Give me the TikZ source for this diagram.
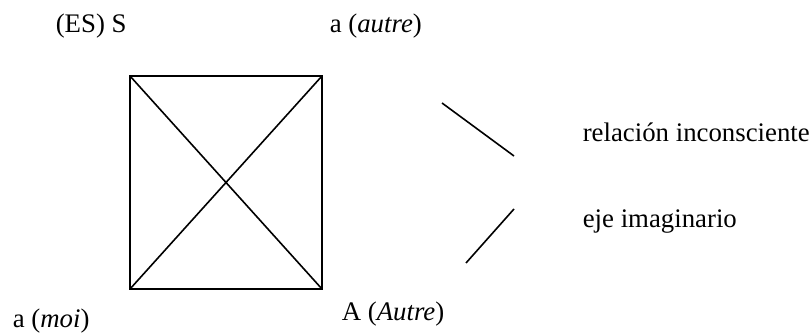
\documentclass[tikz,border=0pt]{standalone}
\usepackage{fontspec}
\setmainfont{Liberation Serif}
\usetikzlibrary{positioning}

\begin{document}
\begin{tikzpicture}[x=1pt,y=-1pt,line width=1.6pt,
  lbl/.style={anchor=base west,inner sep=0pt,font=\fontsize{26.8}{32}\selectfont}]
  \useasboundingbox (0,0) rectangle (811,334);
  % corners of the schema
  \coordinate (tl) at (130,76);
  \coordinate (tr) at (322,76);
  \coordinate (br) at (322,289);
  \coordinate (bl) at (130,289);
  \draw (tl) -- (tr) -- (br) -- (bl) -- cycle;
  \draw (tl) -- (br);
  \draw (tr) -- (bl);
  % labels
  \node[lbl] (es) at (55,33) {(ES) S};
  \node[lbl] (autre) at (329,33) {a (\textit{autre})};
  \node[lbl] (moi) at (12,327) {a (\textit{moi})};
  \node[lbl] (Autre) at (341,320) {A (\textit{Autre})};
  % legend
  \coordinate (r1) at (442,103);
  \coordinate (r2) at (514,156);
  \coordinate (e1) at (514,209);
  \coordinate (e2) at (466,263);
  \draw (r1) -- (r2);
  \draw (e1) -- (e2);
  \node[lbl] (rel) at (582,142) {relación inconsciente};
  \node[lbl] (eje) at (582,227) {eje imaginario};
\end{tikzpicture}
\end{document}
